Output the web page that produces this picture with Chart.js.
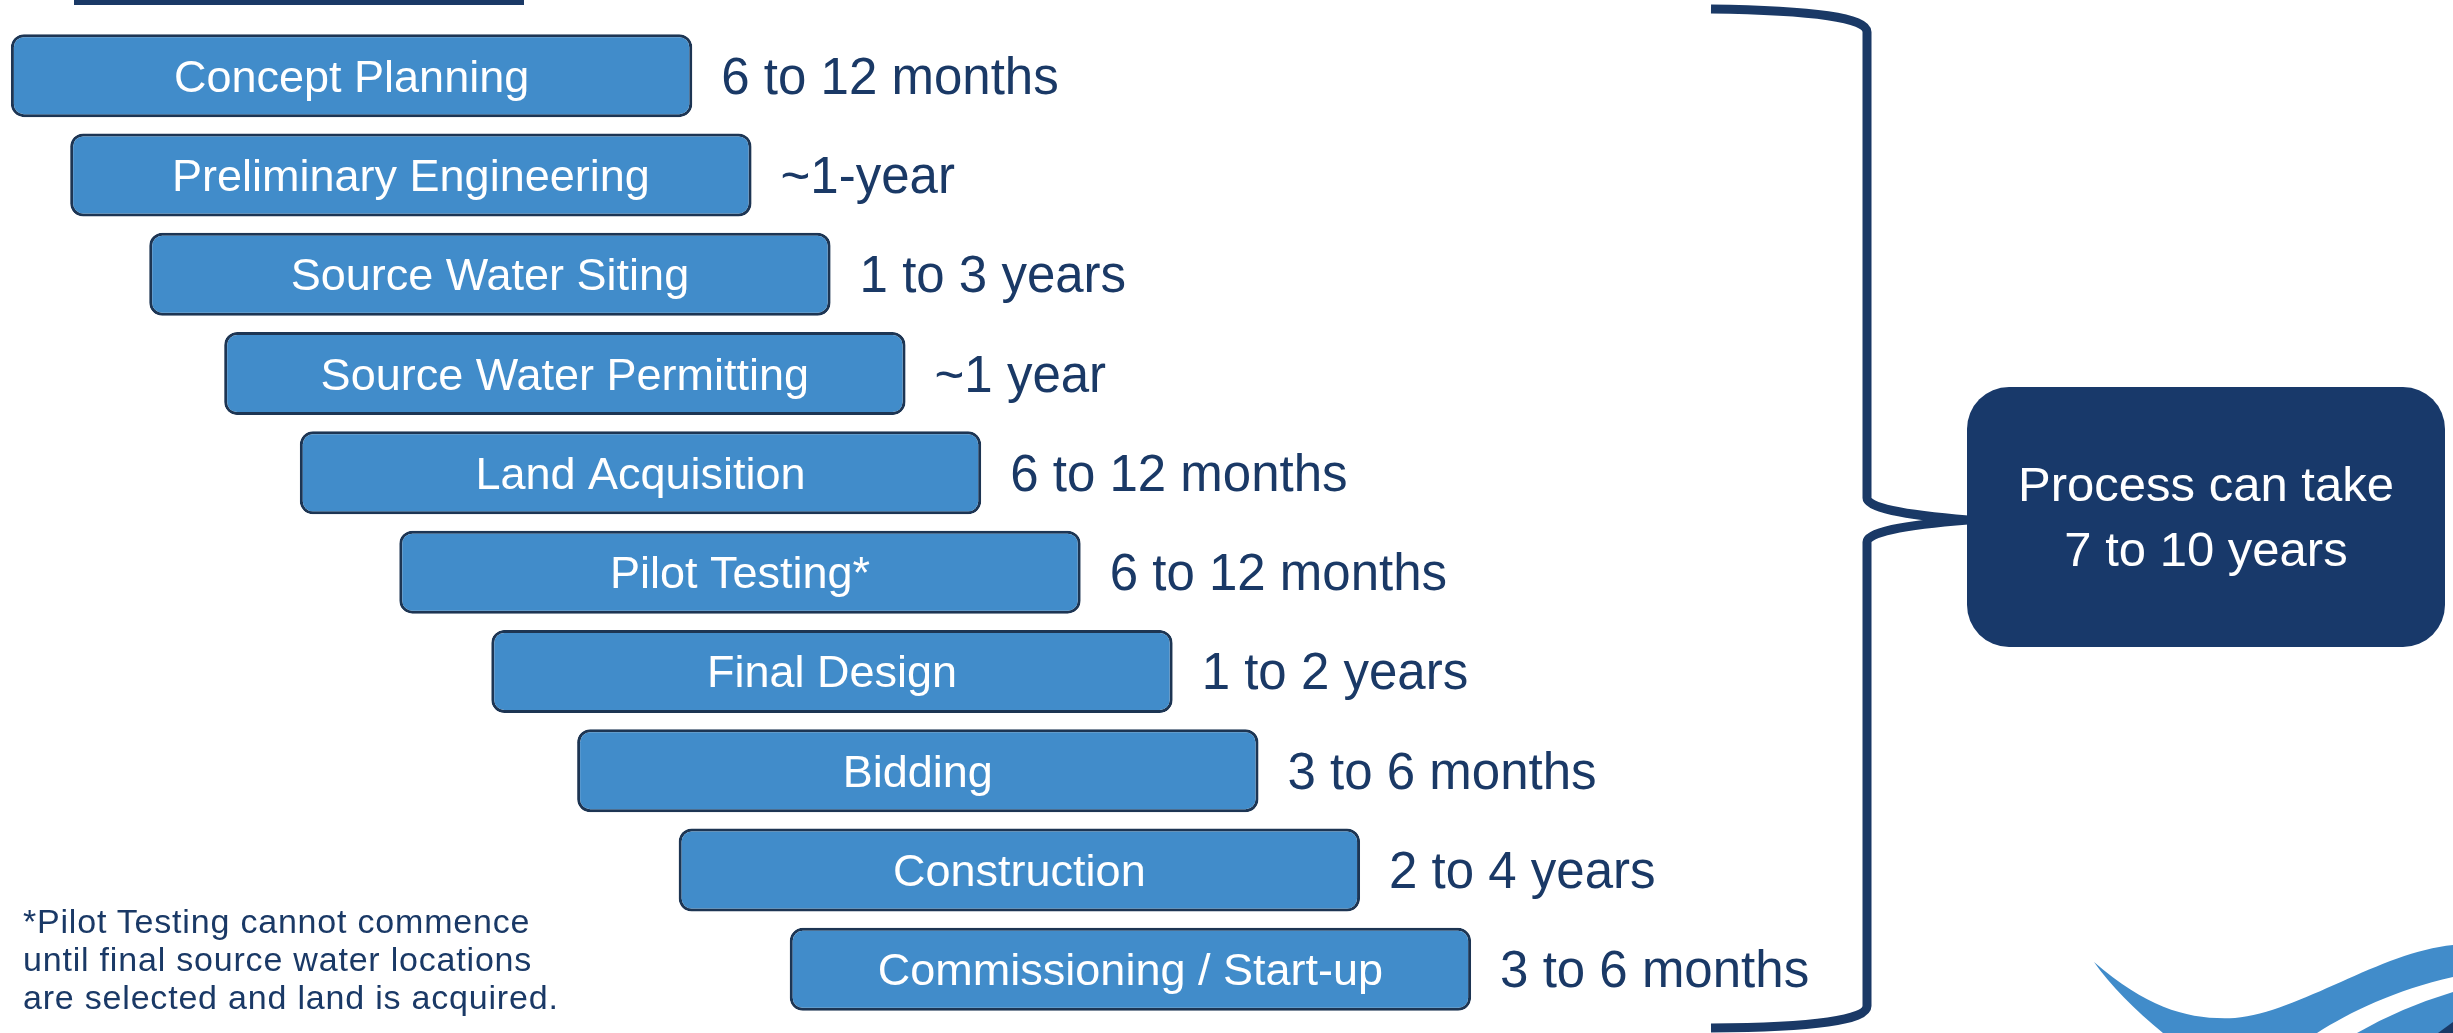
<!doctype html>
<html lang="en">
<head>
<meta charset="utf-8"/>
<title>Process timeline</title>
<script src="https://cdn.jsdelivr.net/npm/chart.js@4.4.0/dist/chart.umd.min.js"></script>
<style>
  html,body{margin:0;padding:0;background:#fff}
  body{width:2453px;height:1033px;position:relative;overflow:hidden;font-family:'Liberation Sans',Arial,sans-serif}
  .wrap{position:absolute;left:0;top:0;width:2453px;height:1033px}
  .topline{position:absolute;left:74px;top:0;width:450px;height:5px;background:#1a3966}
  .note{position:absolute;left:23px;top:902px;font-size:34px;line-height:38px;letter-spacing:0.8px;color:#1a3966}
  .box{position:absolute;left:1967px;top:387px;width:478px;height:260px;border-radius:42px;background:#18396a;color:#fff;
       display:flex;align-items:center;justify-content:center;text-align:center;font-size:49px;line-height:65px}
</style>
</head>
<body>
<div class="wrap"><canvas id="c"></canvas></div>
<div class="topline"></div>
<div class="box"><div>Process can take<br/>7 to 10 years</div></div>
<div class="note">*Pilot Testing cannot commence<br/>until final source water locations<br/>are selected and land is acquired.</div>

<script>
  // phases, in order
  const phases = ['Concept Planning','Preliminary Engineering','Source Water Siting','Source Water Permitting',
    'Land Acquisition','Pilot Testing*','Final Design','Bidding','Construction','Commissioning / Start-up'];
  // relative start of each phase on the (schematic) timeline, and bar length
  const starts = [1.6, 10.3, 21.9, 32.9, 44.0, 58.6, 72.1, 84.7, 99.6, 115.9];
  const lengths = [100, 100, 100, 100, 100, 100, 100, 100, 100, 100];
  const durations = ['6 to 12 months','~1-year','1 to 3 years','~1 year','6 to 12 months',
    '6 to 12 months','1 to 2 years','3 to 6 months','2 to 4 years','3 to 6 months'];

  const NAVY = '#1a3966';
  const FONT = "'Liberation Sans', Arial, sans-serif";

  // text inside bars + duration to the right
  const barText = {
    id: 'barText',
    afterDatasetsDraw(chart) {
      const ctx = chart.ctx;
      const meta = chart.getDatasetMeta(0);
      ctx.save();
      meta.data.forEach((bar, i) => {
        const left = Math.min(bar.x, bar.base), right = Math.max(bar.x, bar.base);
        ctx.fillStyle = '#fff';
        ctx.font = '45px ' + FONT;
        ctx.textAlign = 'center';
        ctx.textBaseline = 'alphabetic';
        ctx.fillText(phases[i], (left + right) / 2, bar.y + 16);
        ctx.fillStyle = NAVY;
        ctx.font = '51px ' + FONT;
        ctx.textAlign = 'left';
        ctx.fillText(durations[i], right + 29, bar.y + 18);
      });
      ctx.restore();
    }
  };

  // brace and the wave in the corner
  const decor = {
    id: 'decor',
    afterDraw(chart) {
      const ctx = chart.ctx;
      ctx.save();
      ctx.strokeStyle = NAVY;
      ctx.lineWidth = 9;
      ctx.lineJoin = 'round';
      ctx.beginPath();
      ctx.moveTo(1711, 9);
      ctx.quadraticCurveTo(1867, 11, 1867, 32);
      ctx.lineTo(1867, 498);
      ctx.quadraticCurveTo(1867, 512, 1968, 520);
      ctx.quadraticCurveTo(1867, 528, 1867, 542);
      ctx.lineTo(1867, 1006);
      ctx.quadraticCurveTo(1867, 1027, 1711, 1028);
      ctx.stroke();

      ctx.fillStyle = '#418cca';
      ctx.beginPath();
      ctx.moveTo(2094, 962);
      ctx.bezierCurveTo(2150, 1010, 2190, 1020, 2235, 1018);
      ctx.bezierCurveTo(2300, 1012, 2380, 952, 2453, 945);
      ctx.lineTo(2453, 977);
      ctx.bezierCurveTo(2395, 990, 2350, 1012, 2317, 1033);
      ctx.lineTo(2163, 1033);
      ctx.bezierCurveTo(2135, 1010, 2110, 985, 2094, 962);
      ctx.fill();
      ctx.beginPath();
      ctx.moveTo(2453, 992);
      ctx.quadraticCurveTo(2400, 1008, 2357, 1033);
      ctx.lineTo(2453, 1033);
      ctx.closePath();
      ctx.fill();
      ctx.fillStyle = NAVY;
      ctx.beginPath();
      ctx.moveTo(2438, 1033);
      ctx.lineTo(2453, 1022);
      ctx.lineTo(2453, 1033);
      ctx.closePath();
      ctx.fill();
      ctx.restore();
    }
  };

  new Chart(document.getElementById('c'), {
    type: 'bar',
    data: {
      labels: phases,
      datasets: [{
        data: starts.map((s, i) => [s, s + lengths[i]]),
        backgroundColor: '#418cca',
        borderColor: '#1d3553',
        borderWidth: 3,
        borderRadius: 13,
        borderSkipped: false,
        categoryPercentage: 1,
        barPercentage: 0.836
      }]
    },
    options: {
      indexAxis: 'y',
      responsive: true,
      maintainAspectRatio: false,
      animation: false,
      layout: { padding: { top: 26, bottom: 14, left: 0, right: 0 } },
      plugins: { legend: { display: false }, tooltip: { enabled: false } },
      scales: {
        x: { display: false, min: 0, max: 360 },
        y: { display: false }
      }
    },
    plugins: [barText, decor]
  });
</script>
</body></html>
